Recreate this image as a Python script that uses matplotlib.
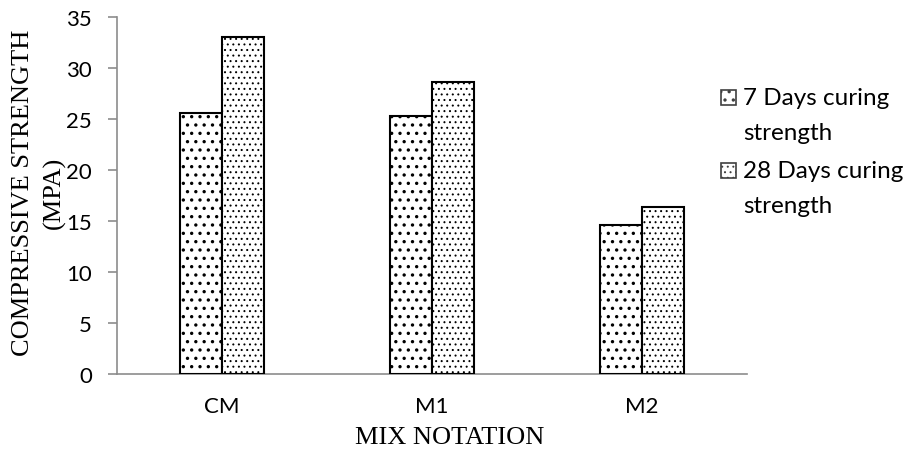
import matplotlib
matplotlib.use("Agg")
import matplotlib.pyplot as plt
from matplotlib.patches import Rectangle
import numpy as np

categories = ["CM", "M1", "M2"]
series_names = ["7 Days curing\nstrength", "28 Days curing\nstrength"]
strength_7 = [25.6, 25.3, 14.6]
strength_28 = [33.0, 28.6, 16.4]
y_ticks = [0, 5, 10, 15, 20, 25, 30, 35]

plt.rcParams['hatch.color'] = 'black'

W, H = 912, 452
fig = plt.figure(figsize=(W / 100, H / 100), dpi=100)
ax = fig.add_axes([117 / W, 1 - 375 / H, (747 - 117) / W, (375 - 18) / H])

x = np.arange(len(categories))
bw = 0.2
hatches = ['..', '...']
hatch_lws = [1.2, 0.7]
for i, vals in enumerate([strength_7, strength_28]):
    with plt.rc_context({'hatch.linewidth': hatch_lws[i]}):
        ax.bar(x + (i - 0.5) * bw, vals, width=bw, facecolor='white',
               edgecolor='black', linewidth=1.5, hatch=hatches[i], zorder=3)

ax.set_xlim(-0.5, len(categories) - 0.5)
ax.set_ylim(0, 35)
ax.set_yticks(y_ticks)
ax.set_xticks(x)
ax.set_xticklabels(categories, fontsize=16, family='Lato')
ax.set_yticklabels([str(t) for t in y_ticks], fontsize=16, family='Lato')

gray = '#8c8c8c'
for s in ['top', 'right']:
    ax.spines[s].set_visible(False)
for s in ['left', 'bottom']:
    ax.spines[s].set_color(gray)
    ax.spines[s].set_linewidth(1.2)
ax.tick_params(axis='y', length=6.5, width=1.2, color=gray, pad=11.5)
ax.tick_params(axis='x', length=0, pad=16)

ax.set_ylabel("COMPRESSIVE STRENGTH\n(MPA)", family='Liberation Serif', fontsize=19,
              va='center', linespacing=1.5)
ax.yaxis.set_label_coords((39 - 117) / 630, (375 - 193) / 357)
ax.set_xlabel("MIX NOTATION", family='Liberation Serif', fontsize=19, va='center')
ax.xaxis.set_label_coords((450 - 117) / 630, (375 - 438) / 357)

# legend
marker_tops = [91, 164]
text_baselines = [105, 178]
for i, name in enumerate(series_names):
    with plt.rc_context({'hatch.linewidth': hatch_lws[i]}):
        fig.add_artist(Rectangle((721 / W, 1 - (marker_tops[i] + 15) / H), 15 / W, 15 / H,
                                 transform=fig.transFigure, facecolor='white',
                                 edgecolor='#404040', linewidth=1.2, hatch=hatches[i]))
    fig.text(743 / W, 1 - (text_baselines[i] - 17) / H, name, family='Lato', fontsize=17.5,
             ha='left', va='top', linespacing=1.8)

fig.savefig("out.png", dpi=100)
